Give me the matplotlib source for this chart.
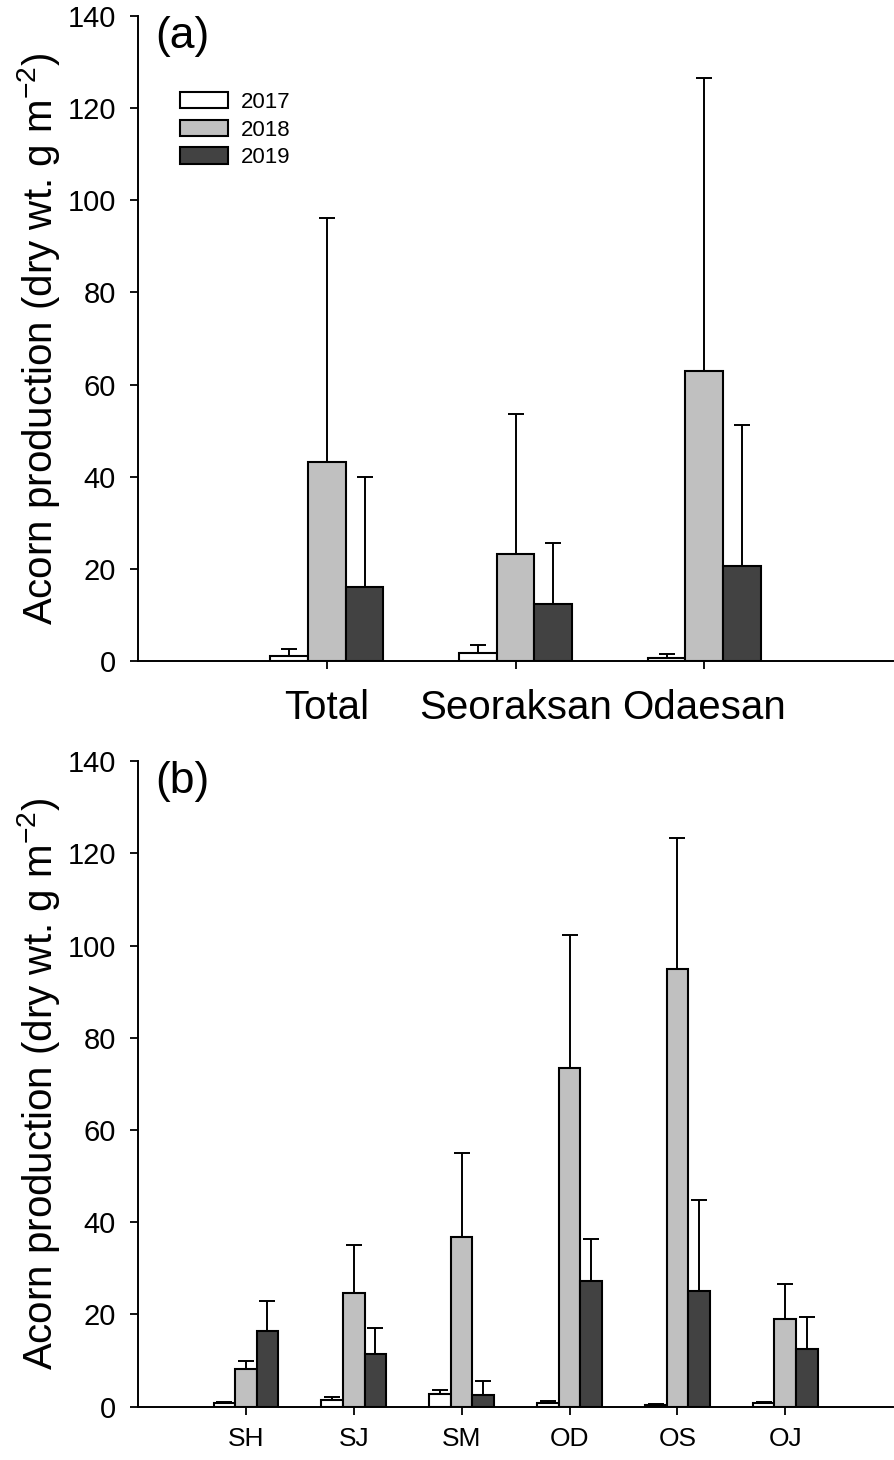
#!/usr/bin/env python3
"""
Acorn production by year: (a) mountain totals, (b) individual plots.
"""

import matplotlib
matplotlib.use("Agg")
import matplotlib.pyplot as plt
import numpy as np

plt.rcParams['font.family'] = ['Liberation Sans', 'DejaVu Sans']
plt.rcParams['mathtext.fontset'] = 'custom'
plt.rcParams['mathtext.rm'] = 'Liberation Sans'

# Panel (a) data
sites_a = ['Total', 'Seoraksan', 'Odaesan']
a_2017 = [1.1, 1.8, 0.7]
a_2017_err = [1.5, 1.7, 0.8]
a_2018 = [43.1, 23.2, 62.9]
a_2018_err = [53.1, 30.5, 63.7]
a_2019 = [16.0, 12.4, 20.7]
a_2019_err = [24.0, 13.2, 30.6]

# Panel (b) data
sites_b = ['SH', 'SJ', 'SM', 'OD', 'OS', 'OJ']
b_2017 = [0.7, 1.4, 2.7, 0.7, 0.3, 0.7]
b_2017_err = [0.2, 0.7, 0.9, 0.4, 0.2, 0.3]
b_2018 = [8.2, 24.6, 36.8, 73.5, 95.0, 19.1]
b_2018_err = [1.6, 10.4, 18.1, 28.7, 28.3, 7.5]
b_2019 = [16.3, 11.4, 2.5, 27.2, 25.1, 12.5]
b_2019_err = [6.6, 5.7, 3.1, 9.1, 19.7, 6.9]

years = ['2017', '2018', '2019']
colors = ['white', '#c0c0c0', '#424242']
ylabel = 'Acorn production (dry wt. g m$^{\\mathregular{-2}}$)'


def draw_panel(ax, labels, series, errors, tag, xtick_size, xpad):
    x = np.arange(len(labels))
    width = 0.2
    for i, (vals, errs) in enumerate(zip(series, errors)):
        pos = x + (i - 1) * width
        ax.bar(pos, vals, width, color=colors[i], edgecolor='black',
               linewidth=1.5, label=years[i], zorder=2)
        ax.errorbar(pos, vals, yerr=[np.zeros(len(vals)), errs], fmt='none',
                    ecolor='black', elinewidth=1.4, capsize=6, capthick=1.4,
                    zorder=1)
    ax.set_xlim(-1, len(labels))
    ax.set_ylim(0, 140)
    ax.set_yticks(np.arange(0, 141, 20))
    ax.set_xticks(x)
    ax.set_xticklabels(labels, fontsize=xtick_size)
    ax.tick_params(axis='y', labelsize=21, length=6, width=1.3,
                   direction='out', pad=10)
    ax.tick_params(axis='x', length=6, width=1.3, direction='out', pad=xpad)
    for side in ['top', 'right']:
        ax.spines[side].set_visible(False)
    for side in ['left', 'bottom']:
        ax.spines[side].set_linewidth(1.4)
    ax.set_ylabel(ylabel, fontsize=29, labelpad=4)
    ax.text(0.023, 1.0, tag, transform=ax.transAxes, fontsize=32,
            va='top', ha='left')


fig = plt.figure(figsize=(8.94, 14.6), dpi=100)
ax_a = fig.add_axes([0.1544, 0.5473, 0.8446, 0.4418])
ax_b = fig.add_axes([0.1544, 0.0366, 0.8446, 0.4421])

draw_panel(ax_a, sites_a, [a_2017, a_2018, a_2019],
           [a_2017_err, a_2018_err, a_2019_err], '(a)', 29, 14)
draw_panel(ax_b, sites_b, [b_2017, b_2018, b_2019],
           [b_2017_err, b_2018_err, b_2019_err], '(b)', 19, 9)

ax_a.legend(loc='upper left', bbox_to_anchor=(0.055, 0.882), frameon=False,
            fontsize=16, handlelength=2.2, handleheight=0.75,
            labelspacing=0.3, handletextpad=0.55, borderpad=0,
            borderaxespad=0)

fig.savefig('out.png', dpi=100)
